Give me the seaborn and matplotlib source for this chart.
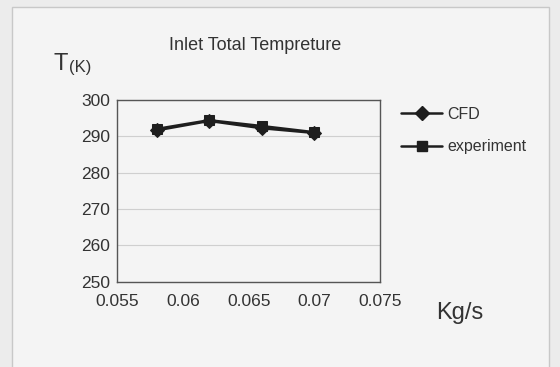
import matplotlib
matplotlib.use("Agg")
import matplotlib.pyplot as plt
import seaborn as sns
import pandas as pd
from matplotlib.patches import Rectangle
from matplotlib.lines import Line2D

flow = [0.058, 0.062, 0.066, 0.070]
cfd = [291.6, 294.2, 292.2, 290.9]
experiment = [292.0, 294.4, 292.8, 291.1]
series_names = ["CFD", "experiment"]
xticks = [0.055, 0.06, 0.065, 0.07, 0.075]
xtick_labels = ["0.055", "0.06", "0.065", "0.07", "0.075"]
yticks = [250, 260, 270, 280, 290, 300]

sns.set_style("white")
plt.rcParams['font.family'] = ['Liberation Sans', 'DejaVu Sans']

df = pd.DataFrame({
    "flow": flow * 2,
    "T": cfd + experiment,
    "series": [series_names[0]] * len(flow) + [series_names[1]] * len(flow),
})

fig = plt.figure(figsize=(5.6, 3.67), dpi=100)
fig.patch.set_facecolor("#ececec")
bg = Rectangle((0.022, -0.05), 0.958, 1.03, transform=fig.transFigure,
               facecolor="#f4f4f4", edgecolor="#c8c8c8", lw=1.0, zorder=-10)
fig.patches.append(bg)
ax = fig.add_axes([0.209, 0.232, 0.470, 0.496])
ax.set_zorder(2)
ax.set_facecolor("#f4f4f4")

col = "#1e1e1e"
sns.lineplot(data=df, x="flow", y="T", hue="series", style="series",
             markers={"CFD": "D", "experiment": "s"}, dashes=False,
             palette={"CFD": col, "experiment": col}, markersize=7,
             markeredgecolor=col, linewidth=1.8, ax=ax, legend=False)

ax.set_xlim(0.055, 0.075)
ax.set_ylim(250, 300)
ax.set_xticks(xticks)
ax.set_xticklabels(xtick_labels, fontsize=12.5, color="#333333")
ax.set_yticks(yticks)
ax.set_yticklabels([str(v) for v in yticks], fontsize=12.5, color="#333333")
ax.tick_params(axis="x", length=0, pad=9)
ax.tick_params(axis="y", length=0, pad=5)
ax.yaxis.grid(True, color="#cfcfcf", lw=0.8)
for s in ax.spines.values():
    s.set_color("#555555")
    s.set_linewidth(1.0)
ax.set_xlabel("")
ax.set_ylabel("")

fig.text(0.455, 0.875, "Inlet Total Tempreture", fontsize=13, ha="center", va="center", color="#333333")
fig.text(0.095, 0.825, "T", fontsize=17, ha="left", va="center", color="#333333")
fig.text(0.124, 0.815, "(K)", fontsize=12, ha="left", va="center", color="#333333")
fig.text(0.778, 0.148, "Kg/s", fontsize=17, ha="left", va="center", color="#333333")

handles = [Line2D([], [], color=col, marker="D", markersize=7, lw=1.8),
           Line2D([], [], color=col, marker="s", markersize=7, lw=1.8)]
leg = fig.legend(handles, series_names, loc="upper left", bbox_to_anchor=(0.69, 0.748),
                 frameon=False, fontsize=11.5, handlelength=2.6, labelspacing=1.1,
                 handletextpad=0.3)
for t in leg.get_texts():
    t.set_color("#333333")

fig.savefig("out.png", dpi=100, facecolor=fig.get_facecolor())
